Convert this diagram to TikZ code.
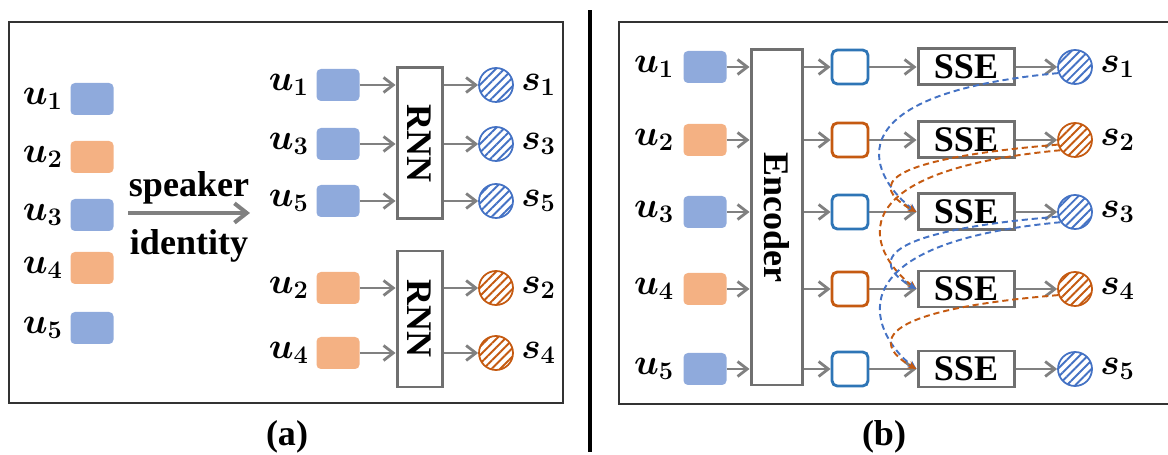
\documentclass[tikz,border=0pt]{standalone}
\usepackage{fontspec}
\setmainfont{Liberation Serif}
\usetikzlibrary{arrows.meta,patterns.meta}

\definecolor{ublue}{HTML}{8FAADC}
\definecolor{uorange}{HTML}{F4B183}
\definecolor{lblue}{HTML}{2E75B6}
\definecolor{cblue}{HTML}{4472C4}
\definecolor{lorange}{HTML}{C55A11}
\definecolor{agray}{HTML}{808080}
\definecolor{bgray}{HTML}{707070}
\definecolor{dgray}{HTML}{333333}

\begin{document}
\begin{tikzpicture}[
    txt/.style={font=\fontsize{20.5}{24}\selectfont\bfseries},
    lab/.style={font=\fontsize{22}{26}\selectfont\boldmath, inner sep=1pt},
    quadB/.style={rounded corners=2.5pt, fill=ublue, minimum width=0.86cm, minimum height=0.64cm, inner sep=0pt},
    quadO/.style={quadB, fill=uorange},
    nascB/.style={draw=lblue, line width=1.6pt, rounded corners=3pt, fill=white, minimum width=0.72cm, minimum height=0.68cm, inner sep=0pt},
    nascO/.style={nascB, draw=lorange},
    blocco/.style={txt, draw=bgray, line width=1.7pt, fill=white, inner sep=0pt},
    stB/.style={circle, draw=cblue, line width=1pt, minimum size=0.68cm, inner sep=0pt, pattern={Lines[angle=45,distance=3.4pt,line width=1.1pt]}, pattern color=cblue},
    stO/.style={stB, draw=lorange, pattern color=lorange},
    freccia/.style={draw=agray, line width=1.6pt, -{Straight Barb[length=5.5pt,width=8.5pt]}},
    tratt/.style={line width=1.1pt, dash pattern=on 3.5pt off 2.2pt, -{Stealth[length=5pt,width=4.5pt]}},
    tratB/.style={tratt, draw=cblue},
    tratO/.style={tratt, draw=lorange},
    cornice/.style={draw=dgray, line width=1.4pt}
]
    \useasboundingbox (0,0) rectangle (23.36,9.1);

    % Cornici e separatore
    \draw[cornice] (0.18,1.04) rectangle (11.26,8.66);
    \draw[cornice] (12.38,1.02) rectangle (23.6,8.66);
    \draw[line width=2.5pt] (11.8,0.06) -- (11.8,8.9);

    % (a) Enunciati in ordine
    \node[quadB] (a1) at (1.84,7.12) {}; \node[lab, left=3pt] (la1) at (a1.west) {$u_1$};
    \node[quadO] (a2) at (1.84,5.96) {}; \node[lab, left=3pt] (la2) at (a2.west) {$u_2$};
    \node[quadB] (a3) at (1.84,4.80) {}; \node[lab, left=3pt] (la3) at (a3.west) {$u_3$};
    \node[quadO] (a4) at (1.84,3.74) {}; \node[lab, left=3pt] (la4) at (a4.west) {$u_4$};
    \node[quadB] (a5) at (1.84,2.54) {}; \node[lab, left=3pt] (la5) at (a5.west) {$u_5$};

    % Freccia speaker identity
    \coordinate (sp0) at (2.56,4.84); \coordinate (sp1) at (5.0,4.84);
    \draw[draw=agray, line width=2.3pt, -{Straight Barb[length=7pt,width=11pt]}] (sp0) -- node[txt, above, inner sep=4pt] (spk) {speaker} node[txt, below, inner sep=8pt] (idt) {identity} (sp1);

    % (a) Gruppi per speaker
    \node[quadB] (m1) at (6.76,7.40) {}; \node[lab, left=3pt] (lm1) at (m1.west) {$u_1$};
    \node[quadB] (m3) at (6.76,6.22) {}; \node[lab, left=3pt] (lm3) at (m3.west) {$u_3$};
    \node[quadB] (m5) at (6.76,5.08) {}; \node[lab, left=3pt] (lm5) at (m5.west) {$u_5$};
    \node[quadO] (m2) at (6.76,3.34) {}; \node[lab, left=3pt] (lm2) at (m2.west) {$u_2$};
    \node[quadO] (m4) at (6.76,2.04) {}; \node[lab, left=3pt] (lm4) at (m4.west) {$u_4$};

    \node[blocco, minimum width=0.9cm, minimum height=3.02cm] (rnnA) at (8.39,6.23) {\rotatebox{-90}{RNN}};
    \node[blocco, minimum width=0.9cm, minimum height=2.72cm] (rnnB) at (8.39,2.72) {\rotatebox{-90}{RNN}};

    \node[stB] (sa1) at (9.92,7.40) {}; \node[lab, right=3pt] (ls1) at (sa1.east) {$s_1$};
    \node[stB] (sa3) at (9.92,6.22) {}; \node[lab, right=3pt] (ls3) at (sa3.east) {$s_3$};
    \node[stB] (sa5) at (9.92,5.08) {}; \node[lab, right=3pt] (ls5) at (sa5.east) {$s_5$};
    \node[stO] (sa2) at (9.92,3.34) {}; \node[lab, right=3pt] (ls2) at (sa2.east) {$s_2$};
    \node[stO] (sa4) at (9.92,2.04) {}; \node[lab, right=3pt] (ls4) at (sa4.east) {$s_4$};

    \draw[freccia] (m1) -- (m1 -| rnnA.west); \draw[freccia] (sa1 -| rnnA.east) -- (sa1);
    \draw[freccia] (m3) -- (m3 -| rnnA.west); \draw[freccia] (sa3 -| rnnA.east) -- (sa3);
    \draw[freccia] (m5) -- (m5 -| rnnA.west); \draw[freccia] (sa5 -| rnnA.east) -- (sa5);
    \draw[freccia] (m2) -- (m2 -| rnnB.west); \draw[freccia] (sa2 -| rnnB.east) -- (sa2);
    \draw[freccia] (m4) -- (m4 -| rnnB.west); \draw[freccia] (sa4 -| rnnB.east) -- (sa4);

    \node[txt] (capa) at (5.74,0.36) {(a)};

    % (b) Encoder e SSE
    \node[quadB] (u1) at (14.10,7.76) {}; \node[lab, left=4pt] (lu1) at (u1.west) {$u_1$};
    \node[quadO] (u2) at (14.10,6.30) {}; \node[lab, left=4pt] (lu2) at (u2.west) {$u_2$};
    \node[quadB] (u3) at (14.10,4.86) {}; \node[lab, left=4pt] (lu3) at (u3.west) {$u_3$};
    \node[quadO] (u4) at (14.10,3.32) {}; \node[lab, left=4pt] (lu4) at (u4.west) {$u_4$};
    \node[quadB] (u5) at (14.10,1.72) {}; \node[lab, left=4pt] (lu5) at (u5.west) {$u_5$};

    \node[blocco, minimum width=1.02cm, minimum height=6.70cm] (enc) at (15.53,4.75) {\rotatebox{-90}{Encoder}};

    \node[nascB] (h1) at (17.0,7.76) {};
    \node[nascO] (h2) at (17.0,6.30) {};
    \node[nascB] (h3) at (17.0,4.86) {};
    \node[nascO] (h4) at (17.0,3.32) {};
    \node[nascB] (h5) at (17.0,1.72) {};

    \node[blocco, minimum width=1.92cm, minimum height=0.72cm] (sse1) at (19.32,7.76) {SSE};
    \node[blocco, minimum width=1.92cm, minimum height=0.72cm] (sse2) at (19.32,6.30) {SSE};
    \node[blocco, minimum width=1.92cm, minimum height=0.72cm] (sse3) at (19.32,4.86) {SSE};
    \node[blocco, minimum width=1.92cm, minimum height=0.72cm] (sse4) at (19.32,3.32) {SSE};
    \node[blocco, minimum width=1.92cm, minimum height=0.72cm] (sse5) at (19.32,1.72) {SSE};

    \node[stB] (s1) at (21.5,7.76) {}; \node[lab, right=3pt] (lt1) at (s1.east) {$s_1$};
    \node[stO] (s2) at (21.5,6.30) {}; \node[lab, right=3pt] (lt2) at (s2.east) {$s_2$};
    \node[stB] (s3) at (21.5,4.86) {}; \node[lab, right=3pt] (lt3) at (s3.east) {$s_3$};
    \node[stO] (s4) at (21.5,3.32) {}; \node[lab, right=3pt] (lt4) at (s4.east) {$s_4$};
    \node[stB] (s5) at (21.5,1.72) {}; \node[lab, right=3pt] (lt5) at (s5.east) {$s_5$};

    \draw[freccia] (u1) -- (u1 -| enc.west); \draw[freccia] (h1 -| enc.east) -- (h1); \draw[freccia] (h1) -- (sse1); \draw[freccia] (sse1) -- (s1);
    \draw[freccia] (u2) -- (u2 -| enc.west); \draw[freccia] (h2 -| enc.east) -- (h2); \draw[freccia] (h2) -- (sse2); \draw[freccia] (sse2) -- (s2);
    \draw[freccia] (u3) -- (u3 -| enc.west); \draw[freccia] (h3 -| enc.east) -- (h3); \draw[freccia] (h3) -- (sse3); \draw[freccia] (sse3) -- (s3);
    \draw[freccia] (u4) -- (u4 -| enc.west); \draw[freccia] (h4 -| enc.east) -- (h4); \draw[freccia] (h4) -- (sse4); \draw[freccia] (sse4) -- (s4);
    \draw[freccia] (u5) -- (u5 -| enc.west); \draw[freccia] (h5 -| enc.east) -- (h5); \draw[freccia] (h5) -- (sse5); \draw[freccia] (sse5) -- (s5);

    % Stati precedenti verso SSE
    \draw[tratB] (s1.200) .. controls +(-4.8,-0.45) and +(-0.8,0.6) .. (sse3.west);
    \draw[tratO] (s2.195) .. controls +(-4.2,-0.35) and +(-0.64,0.35) .. (sse3.west);
    \draw[tratO] (s2.215) .. controls +(-4.8,-0.45) and +(-0.8,0.6) .. (sse4.west);
    \draw[tratB] (s3.195) .. controls +(-4.2,-0.35) and +(-0.64,0.35) .. (sse4.west);
    \draw[tratB] (s3.215) .. controls +(-4.8,-0.45) and +(-0.8,0.6) .. (sse5.west);
    \draw[tratO] (s4.200) .. controls +(-4.2,-0.35) and +(-0.64,0.35) .. (sse5.west);

    \node[txt] (capb) at (17.68,0.36) {(b)};
\end{tikzpicture}
\end{document}
